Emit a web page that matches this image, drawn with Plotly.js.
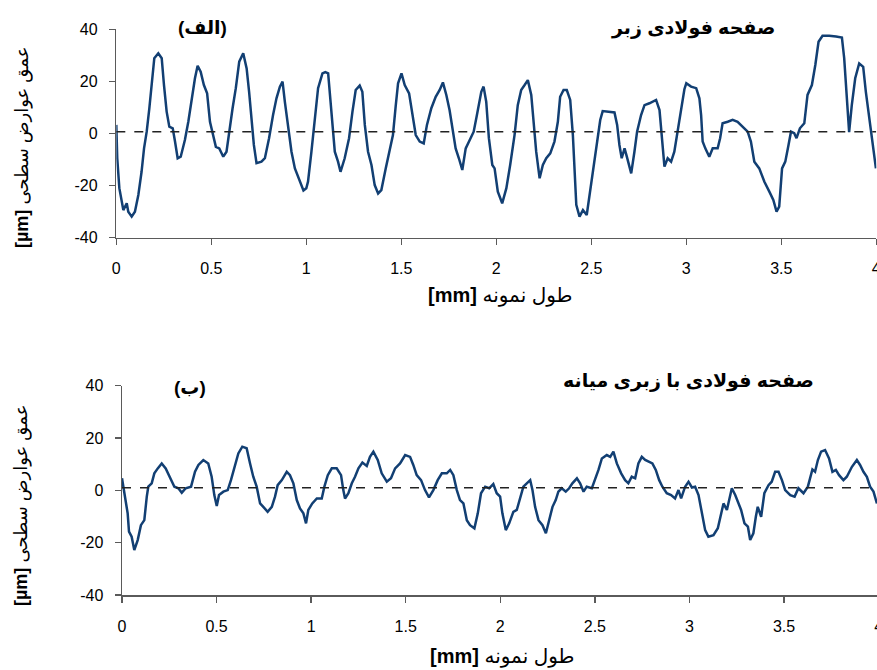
<!DOCTYPE html>
<html>
<head>
<meta charset="utf-8">
<script src="https://cdn.plot.ly/plotly-3.0.1.min.js"></script>
<style>
  html, body { margin: 0; padding: 0; background: #ffffff; overflow: hidden; }
  #plot { width: 900px; height: 670px; }
</style>
</head>
<body>
<div id="plot"></div>
<script>
// Rough steel plate profile (sample length in mm, surface depth in µm)
const roughX = [0, 0.005, 0.016, 0.037, 0.055, 0.063, 0.081, 0.098, 0.116, 0.133, 0.146, 0.16, 0.174, 0.186, 0.2, 0.221, 0.239, 0.251, 0.265, 0.279, 0.297, 0.309, 0.323, 0.339, 0.361, 0.379, 0.396, 0.414, 0.428, 0.444, 0.461, 0.478, 0.493, 0.51, 0.524, 0.542, 0.563, 0.58, 0.594, 0.612, 0.629, 0.647, 0.668, 0.686, 0.699, 0.712, 0.724, 0.738, 0.764, 0.782, 0.804, 0.825, 0.843, 0.861, 0.875, 0.887, 0.904, 0.922, 0.94, 0.966, 0.985, 1.0, 1.009, 1.027, 1.045, 1.062, 1.085, 1.1, 1.115, 1.127, 1.138, 1.15, 1.167, 1.18, 1.202, 1.225, 1.243, 1.26, 1.281, 1.295, 1.308, 1.325, 1.343, 1.36, 1.378, 1.395, 1.418, 1.439, 1.456, 1.471, 1.483, 1.501, 1.518, 1.541, 1.558, 1.576, 1.597, 1.618, 1.635, 1.658, 1.681, 1.702, 1.719, 1.737, 1.754, 1.772, 1.786, 1.803, 1.821, 1.839, 1.86, 1.881, 1.898, 1.921, 1.933, 1.947, 1.961, 1.979, 1.991, 2.008, 2.031, 2.053, 2.073, 2.096, 2.113, 2.131, 2.149, 2.166, 2.184, 2.196, 2.21, 2.228, 2.245, 2.263, 2.284, 2.306, 2.324, 2.336, 2.354, 2.371, 2.389, 2.403, 2.412, 2.421, 2.438, 2.456, 2.476, 2.491, 2.512, 2.529, 2.547, 2.56, 2.587, 2.622, 2.636, 2.648, 2.66, 2.675, 2.687, 2.71, 2.727, 2.741, 2.762, 2.78, 2.806, 2.841, 2.859, 2.873, 2.885, 2.902, 2.92, 2.937, 2.955, 2.973, 2.99, 3.0, 3.025, 3.052, 3.069, 3.078, 3.086, 3.1, 3.121, 3.139, 3.165, 3.178, 3.191, 3.218, 3.244, 3.27, 3.297, 3.323, 3.34, 3.358, 3.384, 3.411, 3.437, 3.458, 3.475, 3.489, 3.504, 3.521, 3.538, 3.551, 3.568, 3.58, 3.598, 3.621, 3.638, 3.661, 3.679, 3.696, 3.717, 3.752, 3.788, 3.819, 3.831, 3.843, 3.857, 3.871, 3.889, 3.91, 3.931, 3.945, 3.966, 3.98, 3.998];
const roughY = [3.3, -9.5, -21, -29.4, -26.8, -30, -31.9, -30, -23.6, -14.7, -5.7, 0.7, 9.7, 19.9, 28.9, 30.8, 28.9, 18.6, 8.4, 2.6, 2.0, -3.1, -9.5, -8.9, -2.5, 4.5, 13.5, 21.2, 26.0, 23.7, 18.6, 15.4, 4.5, -0.6, -5.1, -5.7, -8.9, -7.0, 0.7, 9.7, 17.4, 27.6, 30.8, 25.0, 16.0, 5.8, -4.4, -11.4, -10.8, -9.5, -1.8, 7.1, 13.5, 18.0, 19.9, 12.2, 3.3, -7.0, -13.4, -18.5, -21.9, -21.0, -18.5, -7.0, 5.8, 17.4, 23.1, 23.6, 23.1, 13.5, 2.0, -7.0, -10.8, -14.7, -9.5, -1.8, 8.4, 16.7, 18.4, 16.0, 3.3, -7.0, -12.1, -19.8, -23.0, -21.7, -13.4, -7.0, -0.6, 10.9, 19.3, 23.1, 18.6, 15.4, 7.1, -0.6, -3.1, -3.8, 3.3, 9.7, 14.1, 16.7, 19.6, 14.8, 9.0, 0.7, -5.7, -9.5, -14.0, -5.7, -2.5, 0.7, 7.1, 16.0, 18.0, 12.2, -1.8, -12.1, -13.4, -22.3, -26.8, -21.0, -12.1, -0.6, 10.9, 16.7, 18.6, 20.5, 14.8, 4.5, -7.0, -17.2, -12.1, -9.5, -7.6, -3.1, 4.5, 14.1, 16.7, 16.7, 12.9, -0.6, -15.9, -27.4, -31.9, -29.4, -31.3, -23.6, -14.7, -4.4, 5.2, 8.6, 8.4, 8.1, 3.3, -4.4, -9.5, -5.7, -8.9, -15.3, -7.0, 0.7, 7.1, 10.9, 11.6, 12.9, 9.0, -1.8, -12.7, -9.5, -10.8, -7.0, 0.7, 9.7, 17.0, 19.3, 18.0, 17.4, 13.5, 7.1, -3.1, -5.7, -8.9, -5.7, -5.7, -1.8, 3.9, 4.5, 5.2, 4.5, 2.6, 0.7, -3.1, -10.8, -13.4, -18.5, -22.3, -25.5, -30.0, -28.1, -13.4, -10.8, -4.4, 0.7, 0.1, -1.8, 2.0, 3.9, 14.8, 18.6, 26.3, 35.2, 37.5, 37.5, 37.2, 36.8, 28.9, 13.5, 0.5, 10.9, 21.2, 26.9, 25.6, 16.0, 4.5, -4.4, -13.4];

// Medium-roughness steel plate profile
const mediumX = [0, 0.012, 0.03, 0.037, 0.051, 0.065, 0.083, 0.1, 0.118, 0.131, 0.139, 0.157, 0.171, 0.189, 0.21, 0.231, 0.254, 0.277, 0.298, 0.316, 0.337, 0.365, 0.386, 0.404, 0.43, 0.456, 0.474, 0.488, 0.501, 0.513, 0.536, 0.559, 0.576, 0.594, 0.615, 0.636, 0.659, 0.677, 0.694, 0.712, 0.73, 0.747, 0.77, 0.792, 0.809, 0.823, 0.845, 0.871, 0.888, 0.906, 0.924, 0.941, 0.959, 0.973, 0.985, 1.006, 1.03, 1.056, 1.07, 1.088, 1.109, 1.135, 1.158, 1.17, 1.179, 1.197, 1.215, 1.232, 1.25, 1.271, 1.294, 1.311, 1.329, 1.352, 1.373, 1.4, 1.422, 1.444, 1.47, 1.497, 1.523, 1.54, 1.558, 1.581, 1.602, 1.623, 1.646, 1.669, 1.691, 1.717, 1.735, 1.752, 1.77, 1.787, 1.805, 1.823, 1.84, 1.863, 1.881, 1.898, 1.92, 1.941, 1.963, 1.981, 1.999, 2.011, 2.029, 2.047, 2.069, 2.087, 2.105, 2.122, 2.14, 2.158, 2.17, 2.184, 2.202, 2.223, 2.241, 2.258, 2.276, 2.293, 2.307, 2.325, 2.346, 2.364, 2.381, 2.405, 2.422, 2.44, 2.457, 2.484, 2.501, 2.519, 2.537, 2.563, 2.581, 2.598, 2.616, 2.639, 2.66, 2.677, 2.695, 2.713, 2.73, 2.748, 2.766, 2.783, 2.804, 2.822, 2.84, 2.857, 2.88, 2.903, 2.924, 2.942, 2.956, 2.977, 2.995, 3.013, 3.03, 3.048, 3.066, 3.083, 3.1, 3.127, 3.15, 3.168, 3.18, 3.198, 3.21, 3.224, 3.242, 3.259, 3.273, 3.291, 3.309, 3.321, 3.338, 3.351, 3.361, 3.379, 3.396, 3.418, 3.435, 3.453, 3.471, 3.489, 3.506, 3.533, 3.556, 3.576, 3.603, 3.626, 3.638, 3.65, 3.664, 3.679, 3.696, 3.717, 3.738, 3.756, 3.774, 3.791, 3.814, 3.832, 3.859, 3.885, 3.902, 3.92, 3.938, 3.955, 3.973, 3.991];
const mediumY = [4.6, -1.1, -8.8, -15.8, -17.7, -22.8, -19.0, -13.3, -11.4, -2.4, 1.4, 2.7, 6.5, 8.4, 10.3, 8.4, 4.6, 1.4, 0.8, -0.9, 0.8, 1.4, 7.1, 9.7, 11.6, 10.3, 5.2, -1.8, -6.0, -1.8, -0.5, 0.1, 3.9, 9.0, 14.1, 16.7, 16.1, 10.3, 5.2, 1.4, -5.0, -6.3, -8.2, -6.3, -2.4, 2.0, 3.9, 7.1, 5.8, 2.7, -3.7, -6.9, -8.8, -12.6, -7.5, -5.0, -3.1, -3.1, 1.4, 5.8, 8.4, 8.4, 5.8, 0.1, -3.1, -1.1, 2.7, 5.2, 8.4, 10.6, 9.3, 12.8, 14.8, 11.6, 6.5, 3.3, 4.6, 8.4, 10.3, 13.5, 12.8, 9.7, 5.8, 3.9, 0.1, -2.7, 0.1, 3.9, 6.5, 6.5, 7.8, 5.8, 0.1, -3.7, -5.0, -11.4, -13.3, -14.5, -8.8, -1.1, 1.4, 0.8, 2.4, -1.1, -2.4, -8.8, -15.2, -12.6, -8.2, -7.5, -2.4, 1.4, 2.7, 3.9, 0.1, -6.3, -11.4, -13.3, -16.4, -11.4, -6.3, -3.7, -0.5, 0.8, -0.5, 0.8, 2.7, 4.6, 2.7, -0.5, 1.4, 0.8, 3.9, 7.8, 12.2, 13.5, 12.8, 14.8, 10.3, 6.5, 3.9, 2.7, 5.2, 4.6, 10.3, 12.8, 11.6, 10.9, 10.3, 7.8, 3.9, 1.4, -1.1, -1.8, -3.1, 0.1, -3.1, 1.4, 3.3, 1.1, 1.4, -1.8, -8.8, -15.2, -17.7, -17.1, -14.5, -8.8, -5.0, -7.5, -3.1, 0.8, -1.8, -5.0, -7.5, -12.6, -13.9, -19.0, -16.4, -10.1, -6.3, -10.1, -1.1, 2.0, 3.3, 7.1, 7.1, 3.9, 0.1, -1.8, -2.4, 0.8, -1.1, 1.4, 5.2, 8.0, 7.1, 11.6, 14.8, 15.4, 12.2, 7.1, 7.8, 5.8, 3.9, 5.2, 9.0, 11.6, 9.7, 7.1, 5.2, 1.4, -0.5, -5.0];

// Mean lines of each profile (µm) and sample length span (mm)
const roughMean = 0.7;
const mediumMean = 1.0;
const spanX = [0, 4];

// Axis ticks
const xTickVals = [0, 0.5, 1, 1.5, 2, 2.5, 3, 3.5, 4];
const xTickText = ['0', '0.5', '1', '1.5', '2', '2.5', '3', '3.5', '4'];
const yTickVals = [-40, -20, 0, 20, 40];
const yTickText = ['-40', '-20', '0', '20', '40'];

// Texts
const roughLabel = '(الف)';
const roughTitle = 'صفحه فولادی زبر';
const mediumLabel = '(ب)';
const mediumTitle = 'صفحه فولادی با زبری میانه';
const xTitle = '<b>[mm]</b> طول نمونه';
const yTitle = '<b>[µm]</b> عمق عوارض سطحی';

const W = 900, H = 670;
const FONT = 'Liberation Sans, Arial, DejaVu Sans, sans-serif';
const lineColor = '#123f73';
const axisColor = '#5a5a5a';

function px(v) { return v / W; }
function py(v) { return 1 - v / H; }

function xAxis(domain, anchor) {
  return {
    domain: domain, anchor: anchor, range: [0, 4],
    tickvals: xTickVals, ticktext: xTickText,
    showgrid: false, zeroline: false,
    showline: true, linecolor: axisColor, linewidth: 1.5,
    ticks: 'outside', ticklen: 6, tickwidth: 1.5, tickcolor: axisColor,
    ticklabelstandoff: 10,
    tickfont: { family: FONT, size: 16, color: '#000' }
  };
}
function yAxis(domain, anchor) {
  return {
    domain: domain, anchor: anchor, range: [-40, 40],
    tickvals: yTickVals, ticktext: yTickText,
    showgrid: false, zeroline: false,
    showline: true, linecolor: axisColor, linewidth: 1.5,
    ticks: 'outside', ticklen: 6, tickwidth: 1.5, tickcolor: axisColor,
    ticklabelstandoff: 8,
    tickfont: { family: FONT, size: 16, color: '#000' }
  };
}

const traces = [
  { x: roughX, y: roughY, xaxis: 'x', yaxis: 'y', mode: 'lines',
    line: { color: lineColor, width: 2.5 }, hoverinfo: 'skip' },
  { x: spanX, y: [roughMean, roughMean], xaxis: 'x', yaxis: 'y', mode: 'lines',
    line: { color: '#222', width: 1.5, dash: 'dash' }, hoverinfo: 'skip' },
  { x: mediumX, y: mediumY, xaxis: 'x2', yaxis: 'y2', mode: 'lines',
    line: { color: lineColor, width: 2.5 }, hoverinfo: 'skip' },
  { x: spanX, y: [mediumMean, mediumMean], xaxis: 'x2', yaxis: 'y2', mode: 'lines',
    line: { color: '#222', width: 1.5, dash: 'dash' }, hoverinfo: 'skip' }
];

function note(text, x, y, size, angle) {
  return {
    text: text, xref: 'paper', yref: 'paper', x: px(x), y: py(y),
    xanchor: 'center', yanchor: 'middle', showarrow: false,
    textangle: angle || 0,
    font: { family: FONT, size: size, color: '#000' }
  };
}

const layout = {
  width: W, height: H,
  margin: { l: 0, r: 0, t: 0, b: 0 },
  paper_bgcolor: '#fff', plot_bgcolor: '#fff',
  showlegend: false,
  xaxis: xAxis([px(116.3), px(876.3)], 'y'),
  yaxis: yAxis([py(237.7), py(29.3)], 'x'),
  xaxis2: xAxis([px(122), px(878.6)], 'y2'),
  yaxis2: yAxis([py(595), py(385.7)], 'x2'),
  annotations: [
    note('<b>' + roughLabel + '</b>', 202, 28, 19),
    note('<b>' + roughTitle + '</b>', 693, 28, 19),
    note(xTitle, 500, 295, 20),
    note(yTitle, 22, 147, 18, -90),
    note('<b>' + mediumLabel + '</b>', 190, 387, 19),
    note('<b>' + mediumTitle + '</b>', 688, 381, 19),
    note(xTitle, 502, 656, 20),
    note(yTitle, 22, 505, 18, -90)
  ]
};

Plotly.newPlot('plot', traces, layout, { staticPlot: true, displayModeBar: false });
</script>
</body>
</html>
